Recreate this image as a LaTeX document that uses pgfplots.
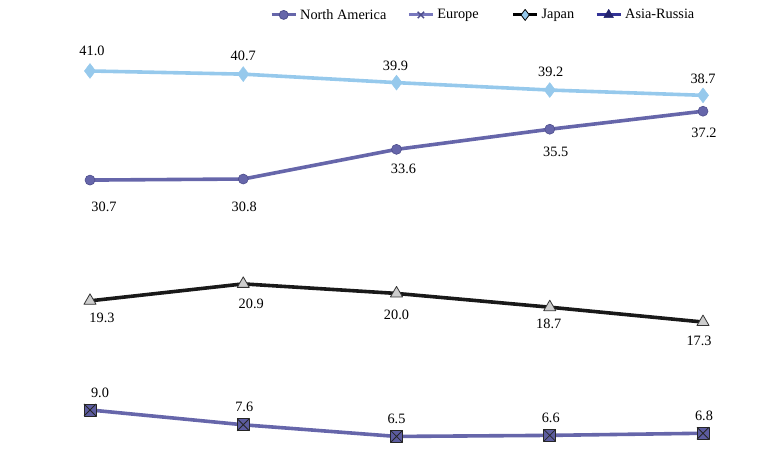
\documentclass[border=0pt]{standalone}
\usepackage{pgfplots}
\pgfplotsset{compat=1.18}
\usepackage{pgfplotstable}
\usepackage{fontspec}
\setmainfont{Liberation Serif}

\definecolor{skyline}{RGB}{150,201,236}
\definecolor{violetline}{RGB}{102,102,170}
\definecolor{violetdark}{RGB}{78,78,140}
\definecolor{eurofill}{RGB}{92,92,160}
\definecolor{eurolegend}{RGB}{120,120,190}
\definecolor{trifill}{RGB}{205,205,205}
\definecolor{asialine}{RGB}{50,50,150}
\definecolor{asiafill}{RGB}{35,35,110}

% filled square with a cross through it
\pgfdeclareplotmark{xbox}{%
  \pgfpathrectangle{\pgfpoint{-\pgfplotmarksize}{-\pgfplotmarksize}}%
    {\pgfpoint{2\pgfplotmarksize}{2\pgfplotmarksize}}%
  \pgfusepathqfillstroke
  \pgfpathmoveto{\pgfpoint{-\pgfplotmarksize}{-\pgfplotmarksize}}%
  \pgfpathlineto{\pgfpoint{\pgfplotmarksize}{\pgfplotmarksize}}%
  \pgfpathmoveto{\pgfpoint{-\pgfplotmarksize}{\pgfplotmarksize}}%
  \pgfpathlineto{\pgfpoint{\pgfplotmarksize}{-\pgfplotmarksize}}%
  \pgfusepathqstroke}

% x = period index, y = value, dx/dy = label offset
\pgfplotstableread{
x y dx dy
0 41.0 2 20
1 40.7 0 18
2 39.9 -1 17
3 39.2 1 18
4 38.7 0 16
}\japan
\pgfplotstableread{
x y dx dy
0 30.7 14 -27
1 30.8 1 -28
2 33.6 7 -20
3 35.5 6 -23
4 37.2 1 -22
}\northamerica
\pgfplotstableread{
x y dx dy
0 19.3 12 -17
1 20.9 8 -20
2 20.0 0 -21
3 18.7 -1 -17
4 17.3 -4 -19
}\asiarussia
\pgfplotstableread{
x y dx dy
0 9.0 10 17
1 7.6 1 18
2 6.5 0 18
3 6.6 1 18
4 6.8 1 17
}\europe

\begin{document}
\begin{tikzpicture}[font=\fontsize{14.3pt}{17pt}\selectfont]
\useasboundingbox (0,0) rectangle (766pt,450pt);
\begin{axis}[
  at={(0,0)}, anchor=south west,
  scale only axis, width=766pt, height=450pt,
  xmin=-0.5873, xmax=4.4111,
  ymin=5.22, ymax=47.70,
  hide axis, clip=false,
  line join=round,
  /pgf/number format/assume math mode=true,
  nodes near coords={\pgfmathprintnumber[fixed,fixed zerofill,precision=1]{\pgfplotspointmeta}},
  point meta=y,
  visualization depends on={\thisrow{dx} \as \dx},
  visualization depends on={\thisrow{dy} \as \dy},
  every node near coord/.style={anchor=center, text=black, inner sep=0pt,
    xshift=\dx pt, yshift=\dy pt},
  legend image code/.code={%
    \draw[mark repeat=2,mark phase=2] plot coordinates {(0pt,0pt) (12pt,0pt) (24pt,0pt)};},
  legend style={at={(270/766,1-6/450)}, anchor=north west, draw=none, fill=none,
    inner sep=0pt, legend columns=4,
    /tikz/every even column/.append style={column sep=18pt},
    nodes={inner sep=3pt}},
]
% legend keys
\addlegendimage{violetline, line width=3pt, mark=*, mark size=4.5pt,
  mark options={fill=violetline, draw=violetdark, line width=0.8pt}}
\addlegendentry{North America}
\addlegendimage{eurolegend, line width=3pt, mark=x, mark size=4.5pt,
  mark options={draw=violetdark, line width=1.4pt}}
\addlegendentry{Europe\hspace*{12pt}}
\addlegendimage{black, line width=3pt, mark=diamond*, mark size=5.5pt,
  mark options={fill=skyline, draw=black, line width=0.8pt}}
\addlegendentry{Japan}
\addlegendimage{asialine, line width=3pt, mark=triangle*, mark size=5.5pt,
  mark options={fill=asiafill, draw=asiafill, line width=0.6pt}}
\addlegendentry{Asia-Russia}

% series
\addplot[forget plot, skyline, line width=3.6pt, mark=diamond*, mark size=7.5pt,
  mark options={fill=skyline, draw=skyline, line width=0.4pt}]
  table[x=x, y=y] {\japan};
\addplot[forget plot, violetline, line width=3.6pt, mark=*, mark size=5pt,
  mark options={fill=violetline, draw=violetdark, line width=0.6pt}]
  table[x=x, y=y] {\northamerica};
\addplot[forget plot, black!90, line width=3.6pt, mark=triangle*, mark size=7pt,
  mark options={fill=trifill, draw=black!80, line width=0.8pt}]
  table[x=x, y=y] {\asiarussia};
\addplot[forget plot, violetline, line width=3.6pt, mark=xbox, mark size=6pt,
  mark options={fill=eurofill, draw=black!85, line width=0.8pt}]
  table[x=x, y=y] {\europe};
\end{axis}
\end{tikzpicture}
\end{document}
